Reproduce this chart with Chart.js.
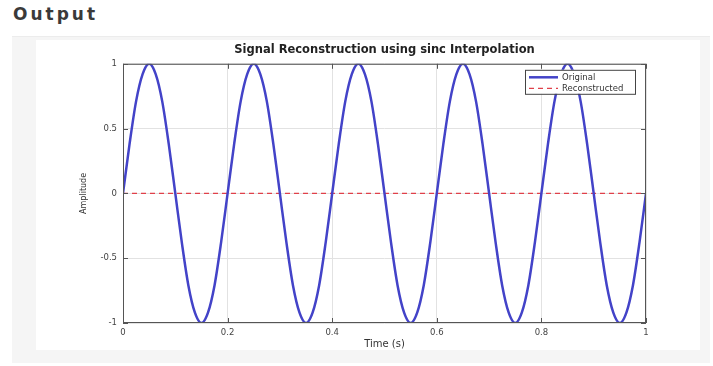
<!DOCTYPE html>
<html>
<head>
<meta charset="utf-8">
<script src="https://cdn.jsdelivr.net/npm/chart.js@4.4.0/dist/chart.umd.min.js"></script>
<style>
  body { margin: 0; background: #fff; width: 713px; height: 366px; overflow: hidden; position: relative; font-family: "DejaVu Sans", sans-serif; }
  h2 { position: absolute; left: 13px; top: 6px; margin: 0; font-size: 17px; line-height: 17px; font-weight: 700; color: #3a3a3a; letter-spacing: 3px; }
  .panel { position: absolute; left: 12px; top: 36px; width: 698px; height: 326px; background: #f5f5f5; border-top: 1px solid #ececec; }
  .fig { position: absolute; left: 36px; top: 40px; width: 664px; height: 310px; background: #fff; }
</style>
</head>
<body>
<h2>Output</h2>
<div class="panel"></div>
<div class="fig"><canvas id="chart" width="664" height="310"></canvas></div>
<script>
// time axis (s), sampled every 0.0125 s
const times = []
for (let i = 0; i <= 80; i++) times.push(+(i * 0.0125).toFixed(4))

// original signal
const original = [
  0, 0.38, 0.71, 0.92, 1, 0.92, 0.71, 0.38, 0, -0.38, -0.71, -0.92, -1, -0.92, -0.71, -0.38,
  0, 0.38, 0.71, 0.92, 1, 0.92, 0.71, 0.38, 0, -0.38, -0.71, -0.92, -1, -0.92, -0.71, -0.38,
  0, 0.38, 0.71, 0.92, 1, 0.92, 0.71, 0.38, 0, -0.38, -0.71, -0.92, -1, -0.92, -0.71, -0.38,
  0, 0.38, 0.71, 0.92, 1, 0.92, 0.71, 0.38, 0, -0.38, -0.71, -0.92, -1, -0.92, -0.71, -0.38,
  0, 0.38, 0.71, 0.92, 1, 0.92, 0.71, 0.38, 0, -0.38, -0.71, -0.92, -1, -0.92, -0.71, -0.38,
  0
]
// reconstructed signal sits flat on zero
const reconstructed = [0, 0]
const reconTimes = [0, 1]

const xTicks = [0, 0.2, 0.4, 0.6, 0.8, 1]
const yTicks = [-1, -0.5, 0, 0.5, 1]

const blue = '#4343c8'
const red = '#e0404a'

// MATLAB-ish box, inward ticks and legend drawn on top
const boxPlugin = {
  id: 'box',
  afterDatasetsDraw(chart) {
    const {ctx, chartArea: a, scales: {x, y}} = chart
    ctx.save()
    ctx.strokeStyle = '#555'
    ctx.lineWidth = 1
    ctx.strokeRect(a.left + 0.5, a.top + 0.5, a.right - a.left - 1, a.bottom - a.top - 1)
    ctx.beginPath()
    xTicks.forEach(v => {
      const px = Math.round(x.getPixelForValue(v)) + 0.5
      ctx.moveTo(px, a.bottom); ctx.lineTo(px, a.bottom - 5)
      ctx.moveTo(px, a.top); ctx.lineTo(px, a.top + 5)
    })
    yTicks.forEach(v => {
      const py = Math.round(y.getPixelForValue(v)) + 0.5
      ctx.moveTo(a.left, py); ctx.lineTo(a.left + 5, py)
      ctx.moveTo(a.right, py); ctx.lineTo(a.right - 5, py)
    })
    ctx.stroke()

    // legend box
    const lx = a.left + 402, ly = a.top + 6, lw = 110, lh = 24
    ctx.fillStyle = '#fff'
    ctx.fillRect(lx, ly, lw, lh)
    ctx.strokeStyle = '#444'
    ctx.strokeRect(lx + 0.5, ly + 0.5, lw, lh)
    ctx.font = '8.5px "DejaVu Sans", sans-serif'
    ctx.textBaseline = 'middle'
    chart.data.datasets.forEach((ds, i) => {
      const yy = ly + 7.5 + i * 11
      ctx.strokeStyle = ds.borderColor
      ctx.lineWidth = ds.borderWidth
      ctx.setLineDash(ds.borderDash || [])
      ctx.beginPath()
      ctx.moveTo(lx + 4, yy); ctx.lineTo(lx + 33, yy)
      ctx.stroke()
      ctx.setLineDash([])
      ctx.fillStyle = '#333'
      ctx.fillText(ds.label, lx + 37, yy)
    })
    ctx.restore()
  }
}

const tickFont = { family: 'DejaVu Sans', size: 8.5 }

new Chart(document.querySelector('#chart').getContext('2d'), {
  type: 'line',
  data: {
    datasets: [
      {
        label: 'Original',
        data: times.map((t, i) => ({x: t, y: original[i]})),
        borderColor: blue,
        borderWidth: 2.5,
        pointRadius: 0,
        cubicInterpolationMode: 'monotone'
      },
      {
        label: 'Reconstructed',
        data: reconTimes.map((t, i) => ({x: t, y: reconstructed[i]})),
        borderColor: red,
        borderWidth: 1.3,
        borderDash: [5, 4],
        pointRadius: 0
      }
    ]
  },
  options: {
    responsive: false,
    animation: false,
    layout: { padding: { left: 38, right: 54, top: 0, bottom: 0 } },
    plugins: {
      legend: { display: false },
      tooltip: { enabled: false },
      title: {
        display: true,
        fullSize: false,
        text: 'Signal Reconstruction using sinc Interpolation',
        color: '#222',
        font: { family: 'DejaVu Sans', size: 11.5, weight: 'bold' },
        padding: { top: 3, bottom: 7 }
      }
    },
    scales: {
      x: {
        type: 'linear',
        min: 0, max: 1,
        afterBuildTicks: s => { s.ticks = xTicks.map(v => ({value: v})) },
        afterFit: s => { s.height = 27 },
        grid: { color: '#e2e2e2', drawTicks: false },
        border: { display: false },
        ticks: { color: '#444', padding: 5, font: tickFont, callback: v => String(v) },
        title: { display: true, text: 'Time (s)', color: '#333', padding: { top: 0, bottom: 0 }, font: { family: 'DejaVu Sans', size: 10 } }
      },
      y: {
        min: -1, max: 1,
        afterBuildTicks: s => { s.ticks = yTicks.map(v => ({value: v})) },
        afterFit: s => { s.width = 49 },
        grid: { color: '#e2e2e2', drawTicks: false },
        border: { display: false },
        ticks: { color: '#444', padding: 6, font: tickFont, callback: v => String(v) },
        title: { display: true, text: 'Amplitude', color: '#333', padding: { top: 5, bottom: 0 }, font: { family: 'DejaVu Sans', size: 8 } }
      }
    }
  },
  plugins: [boxPlugin]
})
</script>
</body>
</html>
